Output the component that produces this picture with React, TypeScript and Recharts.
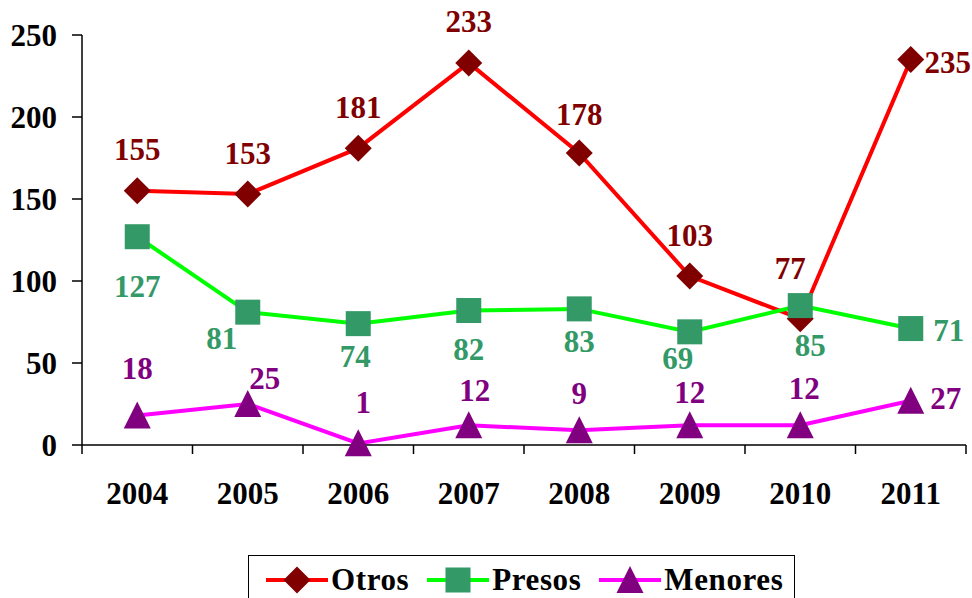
import React from 'react';
import { LineChart, Line, XAxis, YAxis } from 'recharts';

const years = ['2004', '2005', '2006', '2007', '2008', '2009', '2010', '2011'];
const otros = [155, 153, 181, 233, 178, 103, 77, 235];
const presos = [127, 81, 74, 82, 83, 69, 85, 71];
const menores = [18, 25, 1, 12, 9, 12, 12, 27];
const yTicks = [0, 50, 100, 150, 200, 250];

// label placement (layout only): [dx, dy] of label centre from point
const otrosLabelPos = [[0, -41], [0, -41], [0, -41], [0, -41], [0, -39], [0, -41], [-10, -50], [37, 3]];
const presosLabelPos = [[0, 50], [-26, 26], [-3, 33], [0, 39], [0, 33], [-12, 27], [10, 40], [38, 2]];
const menoresLabelPos = [[0, -47], [17, -26], [5, -41], [6, -35], [0, -37], [0, -33], [4, -37], [35, -2]];

const data = years.map((y, i) => ({ year: y, Otros: otros[i], Presos: presos[i], Menores: menores[i] }));

const W = 972;
const H = 598;
const Y_AXIS_W = 82;
const M_RIGHT = 6;
const PLOT_W = W - Y_AXIS_W - M_RIGHT;
const HALF_BAND = PLOT_W / years.length / 2;
const FONT = '"Liberation Serif", "Times New Roman", serif';
const FS = 31;

const Diamond = ({ cx, cy, s = 13.5 }: any) => (
  <polygon points={`${cx},${cy - s} ${cx + s},${cy} ${cx},${cy + s} ${cx - s},${cy}`} fill="#800000" />
);
const Square = ({ cx, cy, s = 12.5 }: any) => (
  <rect x={cx - s} y={cy - s} width={2 * s} height={2 * s} fill="#339966" />
);
const Triangle = ({ cx, cy, s = 13.5 }: any) => (
  <polygon points={`${cx},${cy - 14} ${cx + s},${cy + 13} ${cx - s},${cy + 13}`} fill="#800080" />
);

const makeLabel = (pos: number[][], color: string) => (props: any) => {
  const { x, y, value, index } = props;
  const [dx, dy] = pos[index] || [0, 0];
  return (
    <text
      key={`l-${index}`}
      x={x + dx}
      y={y + dy}
      dy="0.34em"
      textAnchor="middle"
      fill={color}
      fontFamily={FONT}
      fontWeight="bold"
      fontSize={FS}
    >
      {value}
    </text>
  );
};

const XTick = (props: any) => {
  const { x, y, payload, index } = props;
  const axisY = y;
  return (
    <g>
      <line x1={x - HALF_BAND} y1={axisY} x2={x - HALF_BAND} y2={axisY + 9} stroke="#000" strokeWidth={1.5} />
      {index === years.length - 1 && (
        <line x1={x + HALF_BAND} y1={axisY} x2={x + HALF_BAND} y2={axisY + 9} stroke="#000" strokeWidth={1.5} />
      )}
      <text x={x} y={axisY + 59} textAnchor="middle" fill="#000" fontFamily={FONT} fontWeight="bold" fontSize={FS}>
        {payload.value}
      </text>
    </g>
  );
};

const legendItems = [
  { name: 'Otros', line: '#FF0000', Marker: Diamond },
  { name: 'Presos', line: '#00FF00', Marker: Square },
  { name: 'Menores', line: '#FF00FF', Marker: Triangle },
];

export default function App() {
  return (
    <div style={{ position: 'absolute', left: 0, top: 0, width: W, height: H, overflow: 'hidden', background: '#fff' }}>
      <LineChart width={W} height={H} data={data} margin={{ top: 35, right: M_RIGHT, bottom: 103, left: 0 }}>
        <XAxis
          dataKey="year"
          interval={0}
          padding={{ left: HALF_BAND, right: HALF_BAND }}
          height={50}
          tickSize={0}
          tickMargin={0}
          tickLine={false}
          axisLine={{ stroke: '#000', strokeWidth: 1.5 }}
          tick={<XTick />}
        />
        <YAxis
          width={Y_AXIS_W}
          domain={[0, 250]}
          ticks={yTicks}
          interval={0}
          tickSize={10}
          tickMargin={15}
          axisLine={{ stroke: '#000', strokeWidth: 1.5 }}
          tickLine={{ stroke: '#000', strokeWidth: 1.5 }}
          tick={{ fill: '#000', fontFamily: FONT, fontWeight: 'bold', fontSize: FS }}
        />
        <Line
          dataKey="Otros"
          stroke="#FF0000"
          strokeWidth={4}
          isAnimationActive={false}
          dot={(p: any) => <Diamond key={`o-${p.index}`} cx={p.cx} cy={p.cy} />}
          activeDot={false}
          label={makeLabel(otrosLabelPos, '#800000')}
        />
        <Line
          dataKey="Presos"
          stroke="#00FF00"
          strokeWidth={4}
          isAnimationActive={false}
          dot={(p: any) => <Square key={`p-${p.index}`} cx={p.cx} cy={p.cy} />}
          activeDot={false}
          label={makeLabel(presosLabelPos, '#339966')}
        />
        <Line
          dataKey="Menores"
          stroke="#FF00FF"
          strokeWidth={4}
          isAnimationActive={false}
          dot={(p: any) => <Triangle key={`m-${p.index}`} cx={p.cx} cy={p.cy} />}
          activeDot={false}
          label={makeLabel(menoresLabelPos, '#800080')}
        />
      </LineChart>
      <div
        style={{
          position: 'absolute',
          left: 248,
          top: 555,
          width: 547,
          height: 60,
          boxSizing: 'border-box',
          border: '1.5px solid #000',
          display: 'flex',
          alignItems: 'flex-start',
          paddingLeft: 17,
          paddingTop: 7,
          fontFamily: FONT,
          fontWeight: 'bold',
          fontSize: FS,
          color: '#000',
        }}
      >
        {legendItems.map(({ name, line, Marker }) => (
          <div key={name} style={{ display: 'flex', alignItems: 'center', marginRight: 18 }}>
            <svg width={62} height={34} style={{ display: 'block' }}>
              <line x1={0} y1={17} x2={62} y2={17} stroke={line} strokeWidth={4} />
              <Marker cx={31} cy={17} />
            </svg>
            <span style={{ marginLeft: 3, lineHeight: '34px', letterSpacing: 0.6 }}>{name}</span>
          </div>
        ))}
      </div>
    </div>
  );
}
